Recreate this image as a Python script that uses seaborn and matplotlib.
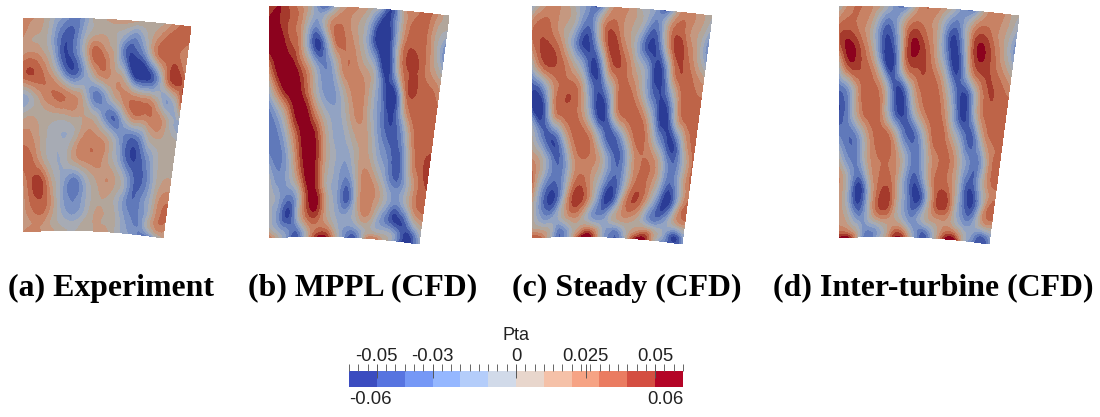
import numpy as np
import matplotlib
matplotlib.use('Agg')
import matplotlib.pyplot as plt
import matplotlib.tri as tri
from matplotlib.colors import ListedColormap, BoundaryNorm
import seaborn as sns

# Pta, in hundredths. rows run top to bottom of the
# sector, 17 points across each row
experiment = [
    [2.5, 2, 1, -1, -2.5, -3.5, -2, 0.5, 1, 1.5, 1.5, 1, 0.5, 0.5, 1.5, 3, 3.5],
    [2, 1, 0.5, -2, -4.5, -4, -1, 1, 1, 0, -2, -3, -0.5, 2, 3.5, 3.5, 3],
    [1.5, 2, 1, -1.5, -5, -4, -0.5, 3.5, 2.5, 0.5, -4, -5, -3, 1.5, 3.5, 3.5, 2],
    [3.5, 4, 3, 1, -2.5, -4.5, -2.5, 0.5, 2.5, 1.5, 0, -5, -6, -4.5, 0.5, 4.5, 3.5],
    [-1.5, 0, 2, 3, 3, 2, 0.5, -3, -3, 0, 2, 2.5, 2, 1.5, -1, -1.5, 3],
    [0.5, 1, 0.5, 0.5, 0.5, 1, 1, 0.5, -1.5, -4, -2.5, 1, 2, 2.5, 2.5, 0, -1.5],
    [2.5, 2, 0.5, -0.5, -1, -0.5, 1.5, 2.5, 2, 0.5, -2, -4, -4, -1, 0.5, 0.5, 0.5],
    [3.5, 3, 1, -0.5, -1, 0.5, 2, 2.5, 2.5, 1, -1, -4, -5, -3.5, -1, 0.5, 0.5],
    [2, 4, 4, 1, -1, -3, -3, -0.5, 1, 2, 1, -1, -4, -4, -1.5, 1, 1.5],
    [1.5, 3.5, 4, 2, -1, -3, -3, -1, 0.5, 1, 0, -2, -4, -3, -1, 2, 3],
    [1.5, 2.5, 3, 1.5, -0.5, -2, -2, -0.5, 1, 1, 0.5, -1.5, -3, -3, -0.5, 2.5, 3],
    [1.5, 2, 2, 1, 0, -0.5, -0.5, 0.5, 1, 1, 0.5, -1, -2.5, -3, -1, 1.5, 2],
    [2, 2.5, 2, 1.5, 0.5, 0, 0, 0.5, 1, 1.5, 0.5, -1, -2, -3, -3.5, -1, 1],
]
mppl = [
    [4, 5, 3.5, 2, -1, -4, -0.5, 2, 2, 0.5, -2, -5, 1, 2.5, 3.5, 2, 0],
    [5.5, 5, 3.5, 1.5, -2.5, -0.5, 3, 2.5, 1, -1.5, -6, -5, 0.5, 3.5, 3.5, 1, -0.5],
    [6, 6, 4, 1.5, -4.5, -4, 2, 3, 1.5, -1.5, -6, -5.5, 1, 4, 3.5, 1, -3],
    [2.5, 6, 6, 3.5, 0, -3, -1.5, 2.5, 2.5, 1, -2, -6, 0, 4, 3.7, 2, 0],
    [-1, 3.5, 6, 5, 1.5, -2, -2.5, 0, 2.5, 2, -1, -5, -5, 3, 3.7, 3.5, 2.5],
    [-3.5, -1, 3, 6, 4, 0.5, -1.5, -1, 1.5, 2, -1, -4, -5, 0, 3.5, 3.7, 3.5],
    [-4, -3, 0.5, 4.5, 6, 3, -0.5, -1.5, 0, 1.5, 0, -3, -4.5, -3, 2, 3.7, 3.7],
    [-2.5, -3.5, -1, 3.5, 6, 3.5, 0, -1.5, -1.5, 1, 1, -1.5, -3.5, -4.5, 0.5, 3.5, 4.5],
    [-0.5, -2.5, -1.5, 1.5, 5.5, 3.5, -0.5, -2, -3.5, 0.5, 2.5, 1, -2, -3.5, -1, 2.5, 4],
    [-0.5, -2, -4, -1, 4.5, 5, 0.5, -2, -4.5, 0, 2.5, 1.5, -1, -3, -1, 2.5, 3.5],
    [-0.5, -3, -5, -1, 3, 3.5, 1, -1, -1.5, -0.5, 1.5, -0.5, -3, -5, -5, -1.5, 1],
    [0.5, -1.5, -3, -3.5, 0.5, 3, 3, 0, -2.5, -3, -0.5, 0, -0.5, -1.5, -4.5, -5, -1],
    [3, 0, -3, -4.5, 0, 4.5, 5, 1, -3, -5, 0, 3, 1, -1, -5, -5.5, -1.5],
]
steady = [
    [-1.5, 1.5, 2.5, 1.5, -0.5, -2.5, -4, 1, 2.5, 1.5, -0.5, -2, -4, 1, 2.5, 1.5, 0],
    [2.5, 3.5, 2.5, 1, -1, -4, -0.5, 3.5, 2.5, 1, -1, -4, -0.5, 3.5, 2.5, 1, -1.5],
    [2.5, 4.2, 3.5, 1, -3, -5.5, -2, 4, 3.5, 1, -3, -5.5, -2, 4, 3.5, 1, -3],
    [-1, 3, 4, 3, 0.5, -3, -5.5, 1, 4, 2.5, 0, -3.5, -5.5, 1, 4, 2.5, 0.5],
    [-5, -3.5, 1.5, 3.5, 3.5, 0, -4.5, -3, 2, 3.5, 1.5, -2.5, -5, -2.5, 2.5, 3.5, 3],
    [-4, -5.5, 1, 3.5, 3.5, 1, -4, -5.5, 1, 3.5, 3.5, 1, -4, -5.5, 1, 3.5, 3.5],
    [0, -3.5, -4.5, -1, 3, 3.5, 1, -3.5, -4.5, -1, 3, 3, -1, -4.5, -4.5, 1, 3.5],
    [2, 0, -3.5, -3.5, 1, 3, 2.5, 0, -3.5, -3.5, 1, 3, 2.5, -1, -4, -1, 3],
    [3, -1.5, -4, -3, 1.5, 3.5, 1.5, -1.5, -4.5, -3, 1.5, 3.5, 2, -1.5, -4.5, -1, 3],
    [1, -3.5, -5.5, -2, 3.5, 4.3, 1, -3.5, -5.5, -1, 3.5, 3.5, 0, -4, -5.5, -0.5, 3.5],
    [0.5, -2, -2, -0.5, 1.5, 1, -1.5, -2.5, -1, 1, 1.5, 0.5, -2, -3, -1.5, 0.5, 1.5],
    [1.5, 1, -0.5, -3.5, -1, 1.5, 3, 0.5, -2.5, -3, 0, 2, 3, 0.5, -2, -5, -2],
    [4, 3, -1, -4, -1, 4, 6, 1, -3, -4, 0, 5, 5, 0, -3, -5, -3],
]
inter_turbine = [
    [-0.5, 2.5, 3, 2, 0, -2.5, -3, 1.5, 3, 2, 0, -2.5, -3, 1, 3, 1.5, 0],
    [3, 3.5, 2.5, 0.5, -3.5, -3, 1.5, 3.5, 2.5, 0.5, -3.5, -3, 1.5, 3.5, 2.5, 1, -1.5],
    [3.5, 5.3, 3.5, 0.5, -4.5, -4.5, 2, 5.3, 3.5, 0.5, -4.5, -4.5, 2, 5.3, 3.5, 1, -2.5],
    [-0.5, 4, 4, 2.5, -2.5, -5.5, 1, 4, 4, 2, -2, -5.5, 0, 4, 4, 2.5, 0.5],
    [-4, -2, 2.5, 3.7, 2, -3.5, -5, 0.5, 3.5, 3.7, 1, -3.5, -5, 0, 3.7, 3.7, 3],
    [-5, -2.5, 2, 3.7, 2.5, -2.5, -5.5, -2, 2, 3.7, 2.5, -2, -5.5, -1.5, 3, 3.7, 3.5],
    [-3, -4, -2, 2, 3.7, 2.5, -2, -4.5, -2, 2.5, 3.7, 1, -2.5, -4.5, 0, 3, 3.5],
    [0, -3, -2.5, 1.5, 3, 3, 1, -2.5, -3, 1, 3, 3, 0, -3, -3, 2, 3],
    [2, -1.5, -5, -0.5, 3, 3.5, 0.5, -3.5, -4.5, 0, 3.5, 3, 0, -4.5, -3, 1.5, 3],
    [1.5, -2, -5.5, -1, 3.7, 4.5, 0.5, -3, -5.5, -1.5, 3.7, 4.5, 0, -4.5, -4.5, 1, 3.5],
    [1.5, 0, -2.5, -1, 1.5, 2, 0.5, -2, -2.5, 0, 1.5, 2, 0, -2.5, -2, 1, 1.5],
    [3, 2, -0.5, -3, -2, 0.5, 3, 1, -2.5, -3.5, -0.5, 2.5, 3, 0, -2, -4, -2],
    [5, 5, 0, -4, -2, 1, 5, 3, -2, -5, -1, 4, 6, 1, -3, -5, -3],
]
captions = ['(a) Experiment', '(b) MPPL (CFD)', '(c) Steady (CFD)', '(d) Inter-turbine (CFD)']
bar_title = 'Pta'
bar_ticks = [-0.05, -0.03, 0, 0.025, 0.05]
bar_tick_labels = ['-0.05', '-0.03', '0', '0.025', '0.05']
bar_min = -0.06
bar_max = 0.06

# row heights down the span, tighter near the bottom wall
row_v = [0, 0.08, 0.16, 0.26, 0.36, 0.46, 0.56, 0.66, 0.76, 0.84, 0.92, 0.97, 1.0]

# muted colours of the shaded contours, the bar uses plain coolwarm
contour_colors = ['#2b3c96', '#4258a8', '#6079ba', '#7a91c3', '#92a3c3', '#a7abb4',
                  '#b2a69b', '#c59880', '#c88264', '#be6448', '#a53a2c', '#8c021e']
levels = np.linspace(bar_min, bar_max, 13)

W, H = 1100, 417

sns.set_theme(style='white')
plt.rcParams['font.family'] = ['Liberation Sans', 'DejaVu Sans']

fig = plt.figure(figsize=(W / 100, H / 100), dpi=100)


def make_axes(x0, y0, x1, y1):
    # axes given in figure pixels, y going down
    ax = fig.add_axes([x0 / W, 1 - y1 / H, (x1 - x0) / W, (y1 - y0) / H])
    return ax


def sector(corners, u, v, sag_top=3.5, sag_bot=4):
    tl, tr, br, bl = corners
    x_left = tl[0] + (bl[0] - tl[0]) * v
    x_right = tr[0] + (br[0] - tr[0]) * v
    y_top = tl[1] + (tr[1] - tl[1]) * u - 4 * sag_top * u * (1 - u)
    y_bot = bl[1] + (br[1] - bl[1]) * u - 4 * sag_bot * u * (1 - u)
    return x_left + (x_right - x_left) * u, y_top + (y_bot - y_top) * v


def draw_panel(rows, corners):
    z = np.array(rows) / 100
    uu, vv = np.meshgrid(np.linspace(0, 1, z.shape[1]), row_v)
    grid = tri.Triangulation(uu.ravel(), vv.ravel())
    fine, z_fine = tri.UniformTriRefiner(grid).refine_field(z.ravel(), subdiv=3)
    x, y = sector(corners, fine.x, fine.y)
    mesh = tri.Triangulation(x, y, fine.triangles)

    xs = [c[0] for c in corners]
    ys = [c[1] for c in corners]
    ax = make_axes(min(xs), min(ys) - 5, max(xs), max(ys) + 1)
    ax.set_xlim(min(xs), max(xs))
    ax.set_ylim(max(ys) + 1, min(ys) - 5)
    cmap = ListedColormap(contour_colors)
    cmap.set_under(contour_colors[0])
    cmap.set_over(contour_colors[-1])
    ax.tricontourf(mesh, z_fine, levels=levels, cmap=cmap,
                   norm=BoundaryNorm(levels, 12), extend='both')
    ax.set_axis_off()


panel_rows = [experiment, mppl, steady, inter_turbine]
panel_corners = [
    [(23, 19), (191, 27), (163, 238), (23, 232)],
    [(269, 7), (449, 16), (419, 244), (269, 238)],
    [(532, 7), (712, 16), (682, 244), (532, 238)],
    [(839, 7), (1019, 16), (989, 244), (839, 238)],
]
caption_x = [111.5, 363, 626.5, 933.5]

for rows, corners in zip(panel_rows, panel_corners):
    draw_panel(rows, corners)

for text, cx in zip(captions, caption_x):
    fig.text(cx / W, 1 - 288 / H, text, ha='center', va='center', fontsize=22.9,
             fontweight='bold', family='Liberation Serif', color='black')

# colour bar, cells from seaborn then a second axes on top for the value scale
ax_bar = make_axes(349, 371, 683, 387)
mids = (levels[:-1] + levels[1:]) / 2
sns.heatmap(mids.reshape(1, -1), ax=ax_bar, cmap=plt.get_cmap('coolwarm', 12),
            vmin=bar_min, vmax=bar_max, cbar=False, xticklabels=False, yticklabels=False)

ax_scale = make_axes(349, 371, 683, 387)
ax_scale.patch.set_alpha(0)
ax_scale.set_xlim(bar_min, bar_max)
ax_scale.set_yticks([])
for s in ax_scale.spines.values():
    s.set_visible(False)
ax_scale.xaxis.tick_top()
ax_scale.set_xticks(bar_ticks)
ax_scale.set_xticklabels(bar_tick_labels, fontsize=13.3, color='#222222')
ax_scale.set_xticks(np.linspace(bar_min, bar_max, 37), minor=True)
ax_scale.tick_params(axis='x', which='major', direction='inout', length=10, width=0.7,
                     color='#555555', pad=-1)
ax_scale.tick_params(axis='x', which='minor', direction='out', length=5, width=0.7,
                     color='#666666')
ax_scale.tick_params(axis='x', which='major', top=True, bottom=False)
ax_scale.tick_params(axis='x', which='minor', top=True, bottom=False)

ax_scale.text(bar_min, -0.75, '-0.06', ha='left', va='center', fontsize=13.3, color='#222222',
              transform=ax_scale.get_xaxis_transform())
ax_scale.text(bar_max, -0.75, '0.06', ha='right', va='center', fontsize=13.3, color='#222222',
              transform=ax_scale.get_xaxis_transform())
fig.text(516 / W, 1 - 336 / H, bar_title, ha='center', va='center', fontsize=13, color='#222222')

fig.savefig('out.png', dpi=100)
